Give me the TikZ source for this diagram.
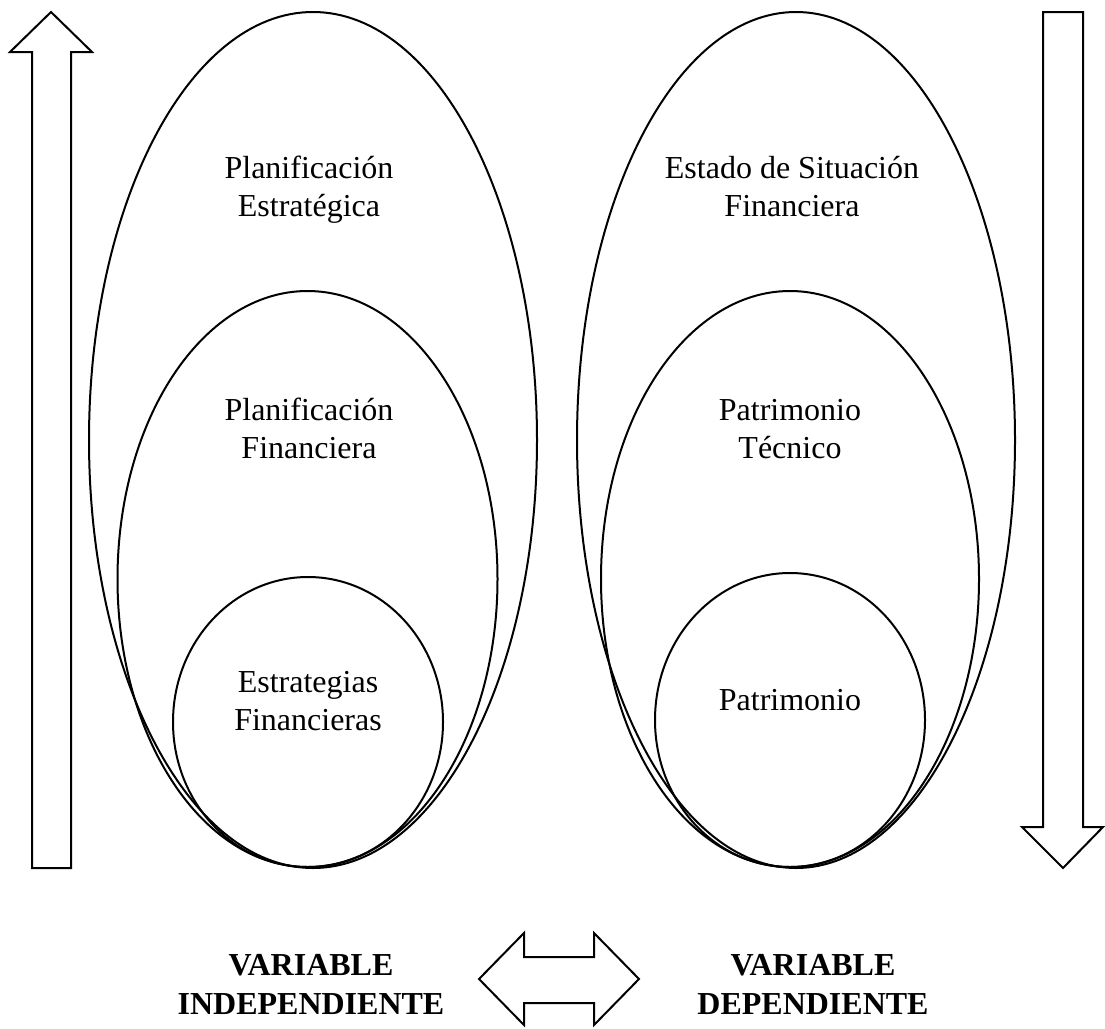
\documentclass[tikz,border=0pt]{standalone}
\usepackage{fontspec}
\setmainfont{Liberation Serif}
\begin{document}
\begin{tikzpicture}[x=1pt,y=-1pt,
  outline/.style={draw=black,line width=2pt},
  blockarrow/.style={outline,line join=miter},
  ovaltext/.style={font=\fontsize{32}{38}\selectfont,align=center,anchor=base,inner sep=0pt},
  vartext/.style={font=\fontsize{32}{39}\selectfont\bfseries,align=center,anchor=base,inner sep=0pt}]
\useasboundingbox (0,0) rectangle (1105,1028);

% upward block arrow on the left
\draw[blockarrow] (51,12) -- (92,52) -- (71,52) -- (71,868) -- (32,868) -- (32,52) -- (10,52) -- cycle;
% downward block arrow on the right
\draw[blockarrow] (1043,12) -- (1083,12) -- (1083,827) -- (1103,827) -- (1063,868) -- (1022,827) -- (1043,827) -- cycle;
% two-way block arrow between the variable labels
\draw[blockarrow] (479,979) -- (524,933) -- (524,957) -- (594,957) -- (594,933) -- (639,979)
  -- (594,1025) -- (594,1003) -- (524,1003) -- (524,1025) -- cycle;

% nested ellipses, independent variable
\draw[outline] (313,440) ellipse [x radius=224, y radius=428];
\draw[outline] (307.5,579) ellipse [x radius=190, y radius=288];
\draw[outline] (308,722) ellipse [x radius=135, y radius=145];

% nested ellipses, dependent variable
\draw[outline] (796,440) ellipse [x radius=219, y radius=428];
\draw[outline] (790,579) ellipse [x radius=189, y radius=288];
\draw[outline] (790,720) ellipse [x radius=135, y radius=147];

% ellipse texts (anchored on the baseline of the last line)
\node[ovaltext] (pe) at (309,216) {Planificación\\Estratégica};
\node[ovaltext] (pf) at (309,458) {Planificación\\Financiera};
\node[ovaltext] (ef) at (308,730) {Estrategias\\Financieras};
\node[ovaltext] (esf) at (792,216) {Estado de Situación\\Financiera};
\node[ovaltext] (pt) at (790,458) {Patrimonio\\Técnico};
\node[ovaltext] (pa) at (790,710) {Patrimonio};

% variable labels
\node[vartext] (vi) at (311,1014) {VARIABLE\\INDEPENDIENTE};
\node[vartext] (vd) at (813,1014) {VARIABLE\\DEPENDIENTE};
\end{tikzpicture}
\end{document}
